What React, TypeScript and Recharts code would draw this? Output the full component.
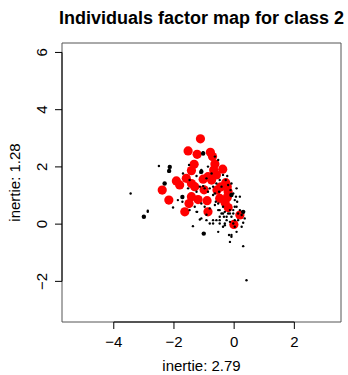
import React from "react";
import {
  ScatterChart,
  Scatter,
  XAxis,
  YAxis,
  ReferenceArea,
  ReferenceLine,
} from "recharts";

// plot window (R adds its own padding around the data)
const X_MIN = -5.72;
const X_MAX = 3.55;
const Y_MIN = -3.42;
const Y_MAX = 6.33;

const xTicks = [-4, -2, 0, 2];
const yTicks = [-2, 0, 2, 4, 6];

const title = "Individuals factor map for class 2";
const xLabel = "inertie: 2.79";
const yLabel = "inertie: 1.28";

// individuals of class 2 (big red)
const redPoints = [
  [-1.12, 2.98], [-1.53, 2.56], [-1.23, 2.44], [-0.79, 2.51], [-0.72, 2.36],
  [-0.64, 2.1], [-0.38, 1.92], [-1.33, 2.09], [-1.42, 1.87], [-0.68, 1.89],
  [-1.92, 1.51], [-1.81, 1.37], [-1.59, 1.6], [-1.42, 1.42], [-1.31, 1.31],
  [-1.03, 1.57], [-0.87, 1.66], [-0.75, 1.54], [-0.59, 1.72], [-0.28, 1.45],
  [-0.23, 1.31], [-0.2, 1.13], [-0.23, 0.93], [-2.39, 1.19], [-2.17, 0.84],
  [-1.42, 0.96], [-1.2, 0.86], [-1.5, 0.72], [-1.64, 0.43], [-0.9, 0.82],
  [-0.87, 0.43], [-0.57, 1.19], [-0.48, 0.9], [-0.2, 0.58], [0.19, 0.32],
  [-0.01, -0.01], [-0.45, 1.3], [-0.3, 0.75], [-1.0, 1.2],
].map(([x, y]) => ({ x, y }));

// mid-size black points
const blackMidPoints = [
  [-3.0, 0.26], [-2.31, 1.42], [-2.14, 2.0], [-2.16, 1.86], [-1.72, 0.95],
  [-1.01, -0.33], [0.3, 0.43], [-1.09, 1.83], [-0.09, 1.02], [-1.03, 2.47],
].map(([x, y]) => ({ x, y }));

// the rest of the individuals (small black)
const blackSmallPoints = [
  [-1.03, 1.33], [-0.92, 1.6], [-0.81, 1.25], [-0.7, 1.31], [-0.64, 1.07],
  [-0.61, 0.78], [-0.53, 0.72], [-0.48, 0.49], [-0.42, 0.37], [-0.37, 0.61],
  [-0.34, 0.26], [-0.25, 0.14], [-0.2, 0.37], [-0.14, 0.08], [-0.09, 0.26],
  [-0.03, 0.02], [0.02, 0.14], [0.06, 0.96], [0.1, 0.78], [-0.03, 1.07],
  [-0.12, 1.19], [-0.2, 1.37], [-0.28, 1.54], [-0.09, 1.42], [0.02, 0.61],
  [0.19, 0.49], [0.13, 0.37], [0.25, 0.32], [-0.03, 0.37], [-0.14, 0.49],
  [-0.31, 0.43], [-0.48, 0.26], [-0.59, 0.14], [-0.7, 0.14], [-0.81, 0.02],
  [-0.92, 0.14], [-1.09, 0.2], [-0.53, -0.27], [-0.31, 0.02], [0.08, -0.27],
  [0.02, -0.09], [-0.14, -0.62], [0.3, -0.77], [0.41, -1.96], [-0.09, -0.44],
  [-0.17, -0.38], [-0.48, 0.02], [-0.37, -0.09],
  [-2.5, 2.03], [-2.87, 0.47], [-1.37, -0.07], [-0.09, -0.38], [-1.14, 0.16],
  [-0.7, 0.02], [-1.03, 2.51], [-1.09, 1.89], [-1.12, 1.8], [-1.25, 1.68],
  [-0.87, 2.01], [-0.75, 1.77], [-0.64, 2.36], [-0.53, 2.24], [-0.37, 1.72],
  [-0.23, 1.68], [-0.48, 1.54], [-0.59, 1.42], [-0.42, 1.31], [-0.5, 1.13],
  [-0.7, 1.02], [-0.87, 1.13], [-0.98, 1.25], [-1.14, 1.31], [-1.25, 1.13],
  [-1.09, 0.72], [-1.31, 0.61], [-1.48, 0.49], [-1.23, 0.43], [-0.98, 0.61],
  [-0.81, 0.55], [-0.64, 0.67], [-0.53, 0.49], [-0.37, 0.37], [-0.25, 0.26],
  [-0.14, 0.37], [-0.03, 0.49], [0.08, 0.61], [0.02, 0.84], [-0.09, 1.02],
  [0.08, 1.25], [0.19, 0.96], [0.13, 0.14], [0.25, -0.09], [-0.31, -0.04],
  [-0.48, 0.14], [-0.92, 0.33], [-1.72, 0.78], [-2.03, 0.58], [-1.87, 0.84],
  [-1.53, 1.25], [-1.48, 1.54], [-1.7, 1.77], [-3.44, 1.07], [-2.87, 0.43],
  [-2.17, 1.83], [-1.25, 0.43], [-1.5, 2.07], [0.3, 0.05], [0.35, 0.2],
].map(([x, y]) => ({ x, y }));

const FONT = "'Liberation Sans', Arial, Helvetica, sans-serif";
const FS = 15; // R's base size at this resolution

function dot(r: number, fill: string) {
  return (props: any) => <circle cx={props.cx} cy={props.cy} r={r} fill={fill} />;
}

function XTick({ x, payload }: any) {
  return (
    <text x={x} y={347} textAnchor="middle" fontSize={FS} fontFamily={FONT} fill="#000">
      {String(payload.value).replace("-", "\u2212")}
    </text>
  );
}

function YTick({ y, payload }: any) {
  return (
    <text
      transform={`translate(47,${y}) rotate(-90)`}
      textAnchor="middle"
      fontSize={FS}
      fontFamily={FONT}
      fill="#000"
    >
      {String(payload.value).replace("-", "\u2212")}
    </text>
  );
}

export default function App() {
  return (
    <div style={{ position: "relative", width: 348, height: 375, background: "#fff" }}>
      <style>{`body{margin:0;overflow:hidden}`}</style>
      <ScatterChart width={348} height={375} margin={{ top: 43, right: 7, bottom: 0, left: 0 }}>
        <XAxis
          type="number"
          dataKey="x"
          domain={[X_MIN, X_MAX]}
          allowDataOverflow
          ticks={xTicks}
          tick={<XTick />}
          tickSize={7}
          tickLine={{ stroke: "#000" }}
          axisLine={false}
          height={53}
        />
        <YAxis
          type="number"
          dataKey="y"
          domain={[Y_MIN, Y_MAX]}
          allowDataOverflow
          ticks={yTicks}
          tick={<YTick />}
          tickSize={7}
          tickLine={{ stroke: "#000" }}
          axisLine={false}
          width={62}
        />
        <ReferenceArea
          x1={X_MIN}
          x2={X_MAX}
          y1={Y_MIN}
          y2={Y_MAX}
          fill="none"
          fillOpacity={0}
          stroke="#555"
          strokeOpacity={1}
        />
        <ReferenceLine
          segment={[{ x: xTicks[0], y: Y_MIN }, { x: xTicks[xTicks.length - 1], y: Y_MIN }]}
          stroke="#000"
          ifOverflow="visible"
        />
        <ReferenceLine
          segment={[{ x: X_MIN, y: yTicks[0] }, { x: X_MIN, y: yTicks[yTicks.length - 1] }]}
          stroke="#000"
          ifOverflow="visible"
        />
        <Scatter data={redPoints} fill="#ff0000" shape={dot(4.6, "#ff0000")} isAnimationActive={false} />
        <Scatter data={blackMidPoints} fill="#000" shape={dot(2.2, "#000")} isAnimationActive={false} />
        <Scatter data={blackSmallPoints} fill="#000" shape={dot(1.2, "#000")} isAnimationActive={false} />
      </ScatterChart>
      <svg
        width={348}
        height={375}
        style={{ position: "absolute", left: 0, top: 0, pointerEvents: "none" }}
      >
        <text x={201.5} y={24} textAnchor="middle" fontSize={18} fontWeight="bold" fontFamily={FONT}>
          {title}
        </text>
        <text x={201.5} y={371} textAnchor="middle" fontSize={FS} fontFamily={FONT}>
          {xLabel}
        </text>
        <text
          transform="translate(20,182.5) rotate(-90)"
          textAnchor="middle"
          fontSize={FS}
          fontFamily={FONT}
        >
          {yLabel}
        </text>
      </svg>
    </div>
  );
}
